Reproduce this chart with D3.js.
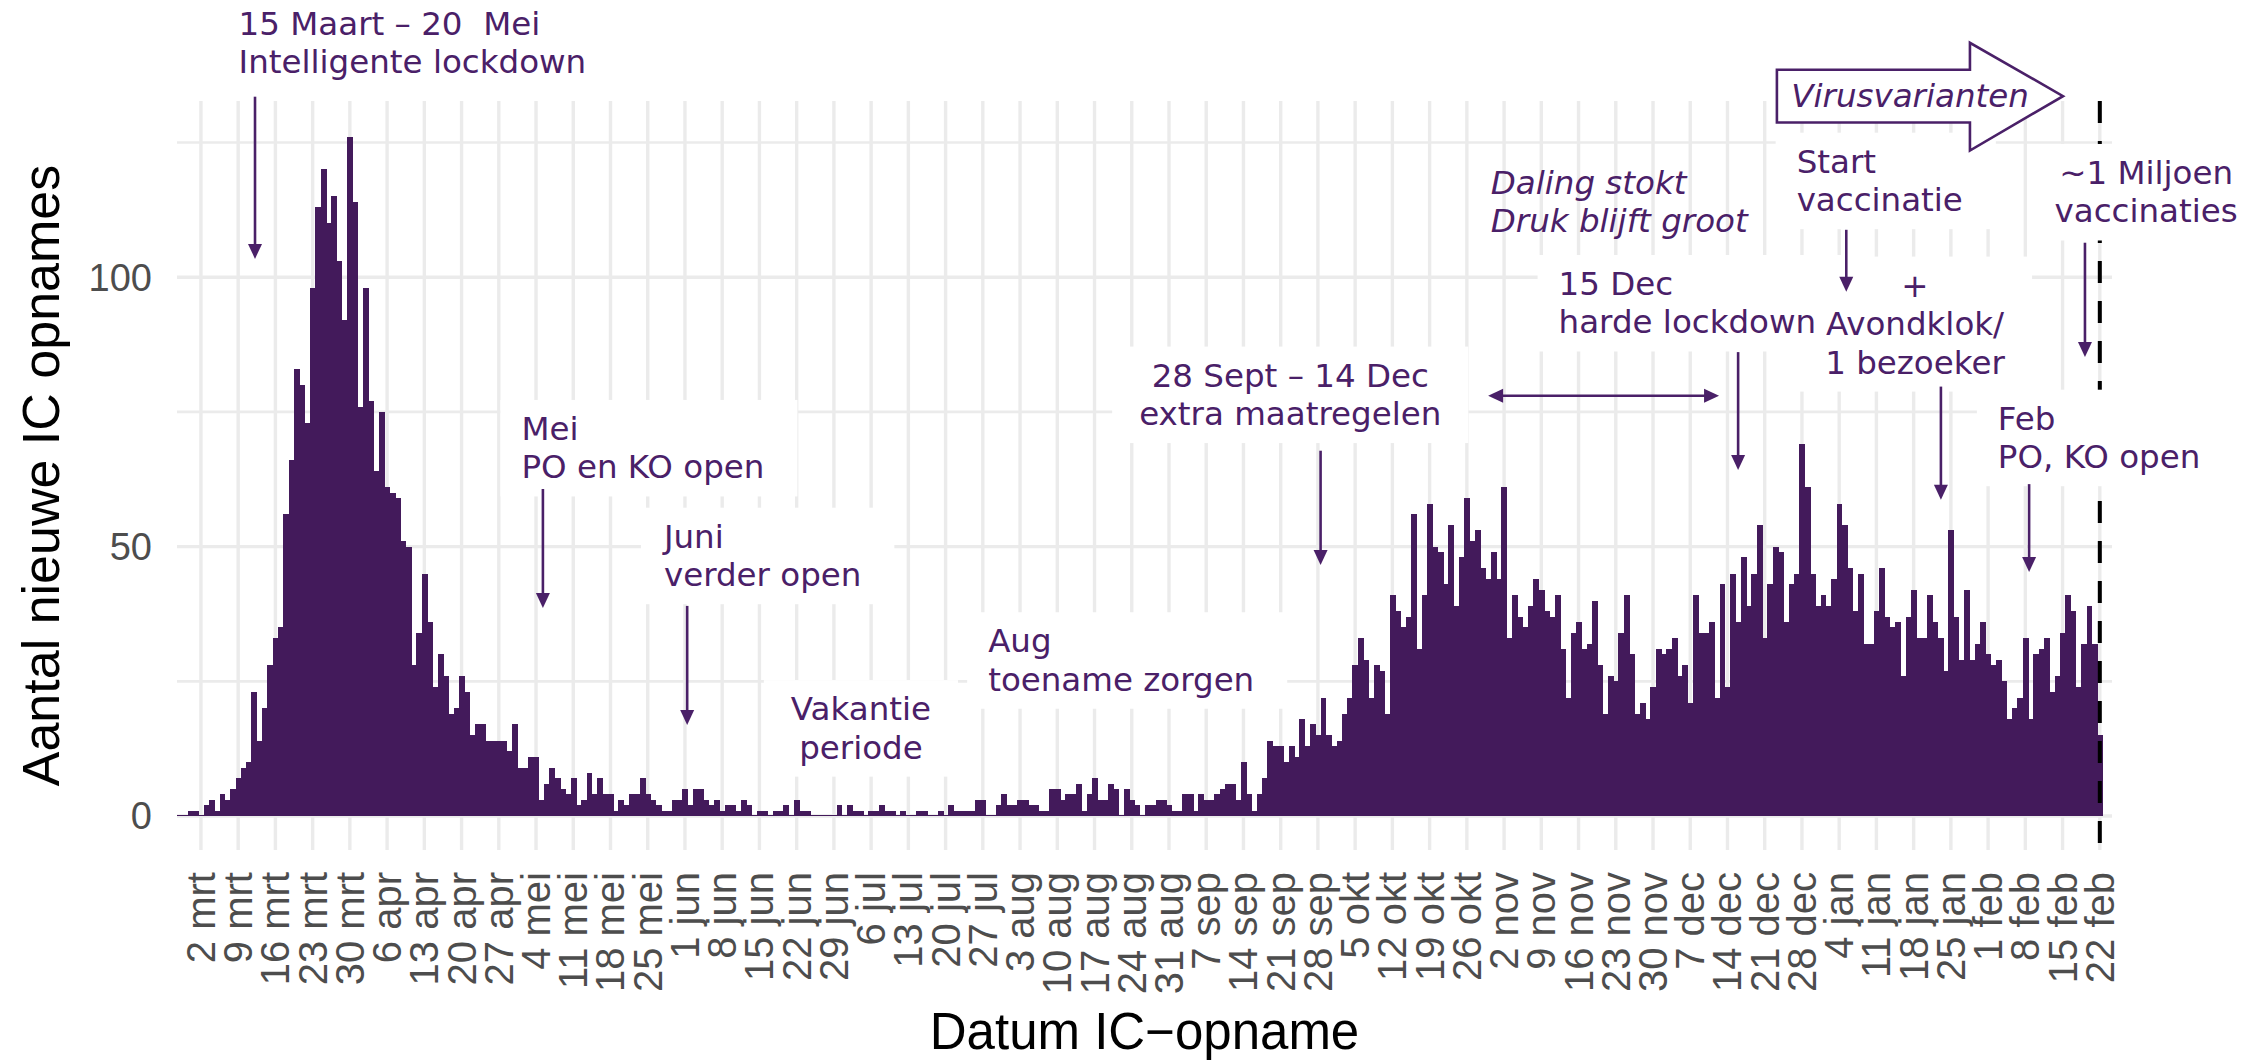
<!DOCTYPE html>
<html>
<head>
<meta charset="utf-8">
<script src="https://cdn.jsdelivr.net/npm/d3@7"></script>
<style>
  body { margin: 0; background: #fff; }
  svg { display: block; }
</style>
</head>
<body>
<div id="canvas"></div>
<script>
"use strict";

/*
   Data: daily new IC admissions, first day 27 feb 2020
*/

let firstDay = "2020-02-27";

let feb2020 = [0, 0, 1];
let mar2020 = [1, 0, 2, 3, 1, 4, 3, 5, 7, 9, 10, 23, 14, 20, 28, 33, 35, 56, 66, 83,
    80, 73, 98, 113, 120, 110, 115, 103, 92, 126, 114];
let apr2020 = [76, 98, 77, 64, 75, 61, 60, 59, 51, 50, 28, 34, 45, 36, 24, 30, 26, 19, 20, 26,
    23, 15, 17, 17, 14, 14, 14, 14, 12, 17];
let may2020 = [9, 9, 11, 11, 3, 6, 9, 7, 5, 4, 7, 2, 3, 8, 4, 7, 4, 4, 1, 3,
    2, 4, 4, 7, 4, 3, 2, 1, 1, 3, 3];
let jun2020 = [5, 2, 5, 5, 3, 2, 3, 1, 2, 2, 1, 3, 2, 0, 1, 1, 0, 1, 1, 2,
    0, 3, 1, 1, 0, 0, 0, 0, 0, 2];
let jul2020 = [0, 2, 1, 1, 0, 1, 1, 2, 1, 1, 0, 1, 0, 0, 1, 1, 0, 0, 1, 0,
    2, 1, 1, 1, 1, 3, 3, 0, 0, 2, 4];
let aug2020 = [2, 2, 3, 3, 2, 2, 1, 1, 5, 5, 3, 4, 4, 6, 1, 4, 7, 3, 3, 6,
    5, 0, 5, 3, 2, 0, 2, 2, 3, 3, 2];
let sep2020 = [1, 1, 4, 4, 1, 4, 3, 3, 4, 5, 6, 6, 3, 10, 4, 1, 4, 7, 14, 13,
    13, 10, 13, 11, 18, 13, 17, 15, 22, 15];
let oct2020 = [13, 14, 19, 22, 28, 33, 29, 22, 28, 27, 19, 41, 38, 35, 37, 56, 31, 41, 58, 50,
    49, 43, 54, 39, 48, 59, 51, 53, 46, 44, 49];
let nov2020 = [44, 61, 33, 41, 37, 35, 39, 44, 42, 38, 37, 41, 31, 22, 34, 36, 31, 32, 40, 28,
    19, 26, 25, 34, 41, 30, 19, 21, 18, 24];
let dec2020 = [31, 30, 31, 33, 26, 28, 21, 41, 34, 34, 36, 22, 43, 24, 45, 36, 48, 39, 45, 54,
    33, 43, 50, 49, 36, 43, 45, 69, 61, 45, 39];
let jan2021 = [41, 39, 44, 58, 54, 46, 38, 45, 32, 32, 38, 46, 37, 35, 36, 26, 37, 42, 33, 33,
    41, 36, 33, 27, 53, 37, 29, 42, 29, 32, 36];
let feb2021 = [30, 28, 29, 25, 18, 20, 22, 33, 18, 30, 31, 33, 23, 26, 34, 41, 38, 24, 32, 39,
    32, 15];

let admissions = [].concat(feb2020, mar2020, apr2020, may2020, jun2020, jul2020,
    aug2020, sep2020, oct2020, nov2020, dec2020, jan2021, feb2021);

// weekly ticks, starting on monday 2 mrt 2020
let firstTick = "2020-03-02";
let tickLabels = ["2 mrt", "9 mrt", "16 mrt", "23 mrt", "30 mrt", "6 apr", "13 apr", "20 apr",
    "27 apr", "4 mei", "11 mei", "18 mei", "25 mei", "1 jun", "8 jun", "15 jun", "22 jun",
    "29 jun", "6 jul", "13 jul", "20 jul", "27 jul", "3 aug", "10 aug", "17 aug", "24 aug",
    "31 aug", "7 sep", "14 sep", "21 sep", "28 sep", "5 okt", "12 okt", "19 okt", "26 okt",
    "2 nov", "9 nov", "16 nov", "23 nov", "30 nov", "7 dec", "14 dec", "21 dec", "28 dec",
    "4 jan", "11 jan", "18 jan", "25 jan", "1 feb", "8 feb", "15 feb", "22 feb"];

let yTicks = [0, 50, 100];
let yMinorTicks = [25, 75, 125];

// annotations, placed in data coordinates
let notes = [
    { lines: ["15 Maart \u2013 20  Mei", "Intelligente lockdown"], date: "2020-03-09T02:00", value: 145.0, anchor: "start", box: true },
    { lines: ["Mei", "PO en KO open"], date: "2020-05-01T06:00", value: 69.8, anchor: "start", box: true },
    { lines: ["Juni", "verder open"], date: "2020-05-28T01:00", value: 49.8, anchor: "start", box: true },
    { lines: ["Vakantie", "periode"], date: "2020-07-04T02:00", value: 17.8, anchor: "middle", box: true },
    { lines: ["Aug", "toename zorgen"], date: "2020-07-28T00:00", value: 30.4, anchor: "start", box: true },
    { lines: ["28 Sept \u2013 14 Dec", "extra maatregelen"], date: "2020-09-22T19:00", value: 79.7, anchor: "middle", box: true },
    { lines: ["Daling stokt", "Druk blijft groot"], date: "2020-10-30T12:00", value: 115.5, anchor: "start", italic: true },
    { lines: ["15 Dec", "harde lockdown"], date: "2020-11-12T06:00", value: 96.7, anchor: "start", box: true },
    { lines: ["Start", "vaccinatie"], date: "2020-12-27T00:00", value: 119.4, anchor: "start", box: true },
    { lines: ["+", "Avondklok/", "1 bezoeker"], date: "2021-01-18T06:00", value: 96.4, anchor: "middle", box: true },
    { lines: ["Feb", "PO, KO open"], date: "2021-02-02T20:00", value: 71.7, anchor: "start", box: true },
    { lines: ["~1 Miljoen", "vaccinaties"], date: "2021-03-02T17:00", value: 117.3, anchor: "middle", box: true }
];

let arrows = [
    { date: "2020-03-12T04:00", from: 133.5, to: 103.4 },
    { date: "2020-05-05T07:00", from: 60.7, to: 38.6 },
    { date: "2020-06-01T10:00", from: 39.0, to: 16.9 },
    { date: "2020-09-28T12:00", from: 67.8, to: 46.6 },
    { date: "2020-12-16T00:00", from: 86.1, to: 64.2 },
    { date: "2021-01-05T08:00", from: 108.8, to: 97.3 },
    { date: "2021-01-23T03:00", from: 79.7, to: 58.7 },
    { date: "2021-02-08T17:00", from: 61.6, to: 45.3 },
    { date: "2021-02-19T05:00", from: 106.4, to: 85.2 }
];

let spanArrow = { from: "2020-10-30T00:00", to: "2020-12-12T10:00", value: 78.0 };

let variantArrow = {
    start: "2020-12-23T07:00", neck: "2021-01-28T14:00", tip: "2021-02-15T02:00",
    bodyTop: 138.5, bodyBottom: 128.7, headTop: 143.5, headBottom: 123.5,
    label: "Virusvarianten", labelDate: "2020-12-26T00:00", labelValue: 131.6
};

let cutoffDate = "2021-02-22";

/*
   Configuration & SVG setup
*/

let svgWidth = 2265;
let svgHeight = 1061;

let leftMargin = 177;
let topMargin = 101;
let plotWidth = 1935;
let plotHeight = 749;

let barColor = "#431a5b";
let noteColor = "#4a2068";
let gridColor = "#ebebeb";
let noteFont = "'DejaVu Sans', Verdana, sans-serif";
let axisFont = "'Liberation Sans', Arial, sans-serif";
let noteSize = 32.5;
let noteLineHeight = 38.5;

let svg = d3.select("#canvas")
    .append("svg")
    .attr("width", svgWidth)
    .attr("height", svgHeight);

svg.append("rect")
    .attr("width", svgWidth)
    .attr("height", svgHeight)
    .attr("fill", "white");

function parseDate(s) {
    return s.length > 10 ? d3.utcParse("%Y-%m-%dT%H:%M")(s) : d3.utcParse("%Y-%m-%d")(s);
}

let startDay = parseDate(firstDay);
let dataset = admissions.map((v, i) => ({ date: d3.utcDay.offset(startDay, i), value: v }));

let tickDates = tickLabels.map((d, i) => d3.utcDay.offset(parseDate(firstTick), 7 * i));

// Scales
let xScale = d3.scaleUtc()
    .domain([parseDate("2020-02-26T12:00"), parseDate("2021-02-24T07:00")])
    .range([leftMargin, leftMargin + plotWidth]);

let yScale = d3.scaleLinear()
    .domain([-6.3, 132.7])
    .range([topMargin + plotHeight, topMargin]);

// Grid
let grid = svg.append("g");

grid.selectAll(".vgrid")
    .data(tickDates)
    .join("line")
    .attr("x1", d => xScale(d))
    .attr("x2", d => xScale(d))
    .attr("y1", topMargin)
    .attr("y2", topMargin + plotHeight)
    .attr("stroke", gridColor)
    .attr("stroke-width", 3.4);

grid.selectAll(".hminor")
    .data(yMinorTicks)
    .join("line")
    .attr("x1", leftMargin)
    .attr("x2", leftMargin + plotWidth)
    .attr("y1", d => yScale(d))
    .attr("y2", d => yScale(d))
    .attr("stroke", gridColor)
    .attr("stroke-width", 2.6);

grid.selectAll(".hmajor")
    .data(yTicks)
    .join("line")
    .attr("x1", leftMargin)
    .attr("x2", leftMargin + plotWidth)
    .attr("y1", d => yScale(d))
    .attr("y2", d => yScale(d))
    .attr("stroke", gridColor)
    .attr("stroke-width", 3.4);

// Bars
svg.append("g")
    .selectAll("rect")
    .data(dataset)
    .join("rect")
    .attr("x", d => xScale(d3.utcHour.offset(d.date, -12)))
    .attr("width", d => xScale(d3.utcHour.offset(d.date, 12)) - xScale(d3.utcHour.offset(d.date, -12)) + 0.6)
    .attr("y", d => Math.min(yScale(d.value), yScale(0) - 1.2))
    .attr("height", d => Math.max(yScale(0) - yScale(d.value), 1.2))
    .attr("fill", barColor)
    .attr("shape-rendering", "crispEdges");

// Dashed line at the last date
svg.append("line")
    .attr("x1", xScale(parseDate(cutoffDate)))
    .attr("x2", xScale(parseDate(cutoffDate)))
    .attr("y1", topMargin)
    .attr("y2", topMargin + plotHeight)
    .attr("stroke", "black")
    .attr("stroke-width", 4)
    .attr("stroke-dasharray", "22 18");

// Axes (tick labels only, ggplot minimal style)
svg.append("g")
    .selectAll("text")
    .data(yTicks)
    .join("text")
    .attr("x", 152)
    .attr("y", d => yScale(d))
    .attr("dy", "0.35em")
    .attr("text-anchor", "end")
    .attr("font-family", axisFont)
    .attr("font-size", 38)
    .attr("fill", "#4d4d4d")
    .text(d => d);

svg.append("g")
    .selectAll("text")
    .data(tickDates)
    .join("text")
    .attr("transform", d => `translate(${xScale(d)}, 872) rotate(-90)`)
    .attr("dy", "0.35em")
    .attr("text-anchor", "end")
    .attr("font-family", axisFont)
    .attr("font-size", 40)
    .attr("fill", "#4d4d4d")
    .text((d, i) => tickLabels[i]);

// Axis titles
svg.append("text")
    .attr("x", leftMargin + plotWidth / 2)
    .attr("y", 1049)
    .attr("text-anchor", "middle")
    .attr("font-family", axisFont)
    .attr("font-size", 51)
    .attr("fill", "black")
    .text("Datum IC\u2212opname");

svg.append("text")
    .attr("transform", `translate(59, ${topMargin + plotHeight / 2}) rotate(-90)`)
    .attr("text-anchor", "middle")
    .attr("font-family", axisFont)
    .attr("font-size", 52)
    .attr("fill", "black")
    .text("Aantal nieuwe IC opnames");

// Annotation boxes and texts
let boxLayer = svg.append("g");
let noteLayer = svg.append("g");

notes.forEach(n => {
    let x = xScale(parseDate(n.date));
    let y = yScale(n.value);

    let t = noteLayer.append("text")
        .attr("font-family", noteFont)
        .attr("font-size", noteSize)
        .attr("font-style", n.italic ? "italic" : "normal")
        .attr("fill", noteColor)
        .attr("text-anchor", n.anchor)
        .style("white-space", "pre");

    n.lines.forEach((line, i) => {
        t.append("tspan")
            .attr("x", x)
            .attr("y", y + i * noteLineHeight)
            .text(line);
    });

    if (n.box) {
        let bb = t.node().getBBox();
        let w = bb.width + 54;
        let x0 = n.anchor === "middle" ? x - w / 2 : bb.x - 21;
        boxLayer.append("rect")
            .attr("x", x0)
            .attr("y", bb.y - 10)
            .attr("width", w)
            .attr("height", bb.height + 20)
            .attr("fill", "white");
    }
});

// Arrows
function arrowHead(g, x, y, angle) {
    let len = 15, half = 7;
    let pts = [[0, 0], [-len, -half], [-len, half]].map(p => {
        let c = Math.cos(angle), s = Math.sin(angle);
        return [x + p[0] * c - p[1] * s, y + p[0] * s + p[1] * c];
    });
    g.append("polygon")
        .attr("points", pts.map(p => p.join(",")).join(" "))
        .attr("fill", noteColor);
}

let arrowLayer = svg.append("g");

arrows.forEach(a => {
    let x = xScale(parseDate(a.date));
    let y1 = yScale(a.from);
    let y2 = yScale(a.to);
    arrowLayer.append("line")
        .attr("x1", x).attr("x2", x)
        .attr("y1", y1).attr("y2", y2 - 6)
        .attr("stroke", noteColor)
        .attr("stroke-width", 2.6);
    arrowHead(arrowLayer, x, y2, Math.PI / 2);
});

let sx1 = xScale(parseDate(spanArrow.from));
let sx2 = xScale(parseDate(spanArrow.to));
let sy = yScale(spanArrow.value);
arrowLayer.append("line")
    .attr("x1", sx1 + 6).attr("x2", sx2 - 6)
    .attr("y1", sy).attr("y2", sy)
    .attr("stroke", noteColor)
    .attr("stroke-width", 2.6);
arrowHead(arrowLayer, sx1, sy, Math.PI);
arrowHead(arrowLayer, sx2, sy, 0);

// Block arrow "Virusvarianten"
let va = variantArrow;
let vx0 = xScale(parseDate(va.start));
let vx1 = xScale(parseDate(va.neck));
let vx2 = xScale(parseDate(va.tip));
let vyMid = yScale((va.bodyTop + va.bodyBottom) / 2);
let blockPts = [
    [vx0, yScale(va.bodyTop)], [vx1, yScale(va.bodyTop)], [vx1, yScale(va.headTop)],
    [vx2, vyMid], [vx1, yScale(va.headBottom)], [vx1, yScale(va.bodyBottom)],
    [vx0, yScale(va.bodyBottom)]
];
svg.append("polygon")
    .attr("points", blockPts.map(p => p.join(",")).join(" "))
    .attr("fill", "white")
    .attr("stroke", noteColor)
    .attr("stroke-width", 2.6);

svg.append("text")
    .attr("x", xScale(parseDate(va.labelDate)))
    .attr("y", yScale(va.labelValue))
    .attr("font-family", noteFont)
    .attr("font-size", noteSize)
    .attr("font-style", "italic")
    .attr("fill", noteColor)
    .text(va.label);
</script>
</body>
</html>
